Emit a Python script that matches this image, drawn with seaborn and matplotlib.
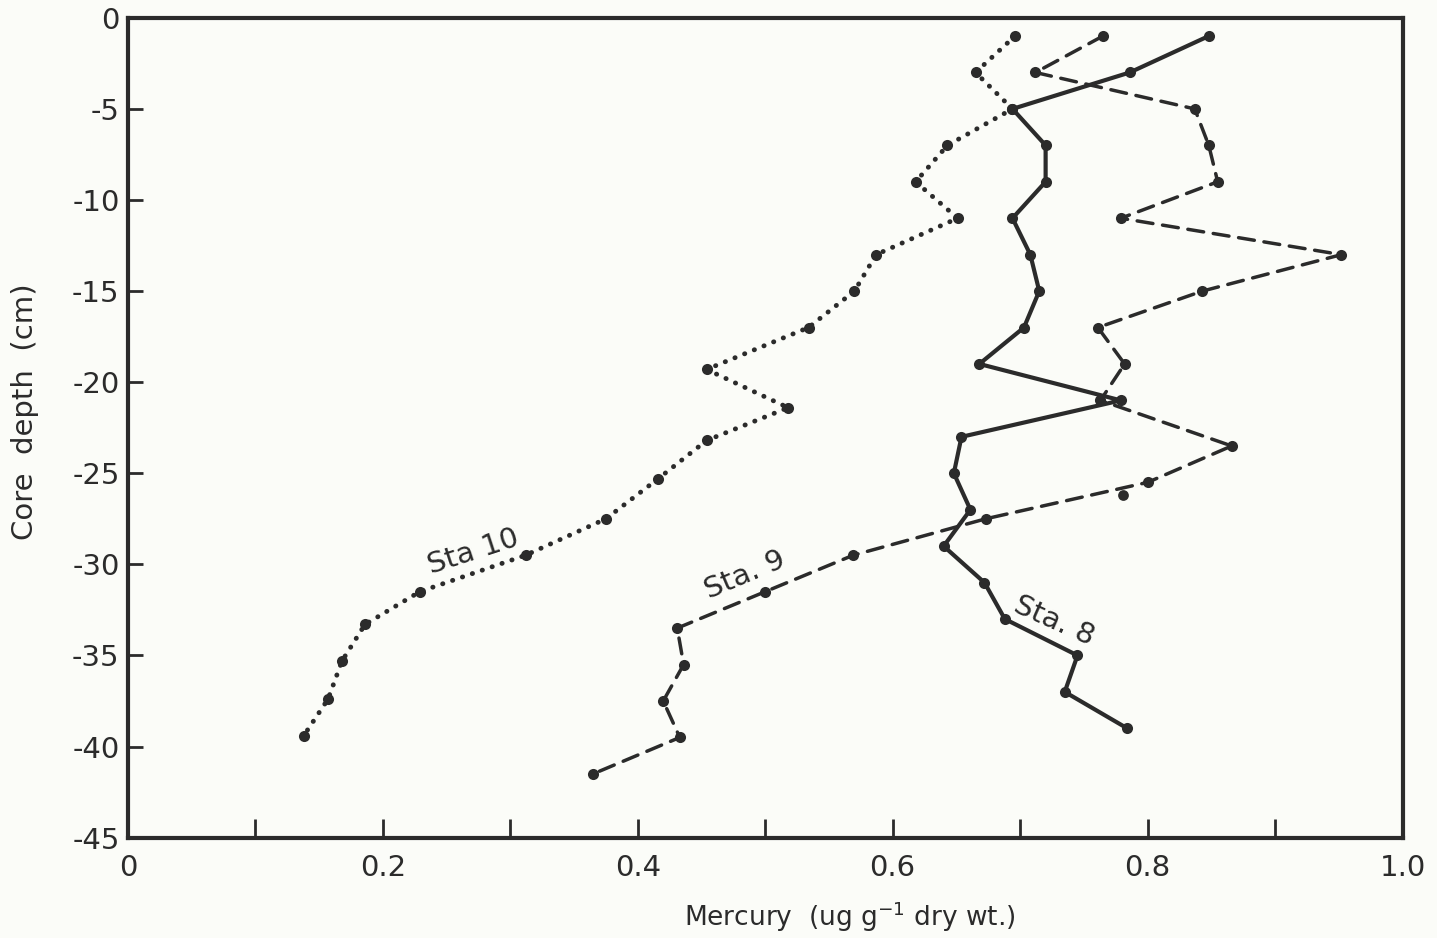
import matplotlib
matplotlib.use("Agg")
import matplotlib.pyplot as plt
import seaborn as sns
import pandas as pd

# Mercury profiles in sediment cores (ug/g dry weight) versus core depth (cm)
sta8_depth = [-1, -3, -5, -7, -9, -11, -13, -15, -17, -19, -21, -23, -25, -27,
              -29, -31, -33, -35, -37, -39]
sta8_hg = [0.848, 0.786, 0.694, 0.720, 0.720, 0.694, 0.708, 0.715, 0.703, 0.668,
           0.779, 0.654, 0.648, 0.661, 0.640, 0.672, 0.688, 0.745, 0.735, 0.784]

sta9_depth = [-1, -3, -5, -7, -9, -11, -13, -15, -17, -19, -21, -23.5, -25.5,
              -27.5, -29.5, -31.5, -33.5, -35.5, -37.5, -39.5, -41.5]
sta9_hg = [0.765, 0.712, 0.837, 0.848, 0.855, 0.779, 0.952, 0.843, 0.761, 0.782,
           0.763, 0.866, 0.800, 0.673, 0.569, 0.500, 0.431, 0.436, 0.420, 0.433,
           0.365]

sta10_depth = [-1, -3, -5, -7, -9, -11, -13, -15, -17, -19.3, -21.4, -23.2, -25.3,
               -27.5, -29.5, -31.5, -33.3, -35.3, -37.4, -39.4]
sta10_hg = [0.696, 0.665, 0.694, 0.643, 0.618, 0.651, 0.587, 0.570, 0.534, 0.454,
            0.518, 0.454, 0.416, 0.375, 0.312, 0.229, 0.186, 0.168, 0.157, 0.138]

# unconnected replicate sample near Sta. 9
extra_depth = [-26.2]
extra_hg = [0.781]

x_ticks = [0, 0.2, 0.4, 0.6, 0.8, 1.0]
x_tick_labels = ["0", "0.2", "0.4", "0.6", "0.8", "1.0"]
x_tick_marks = [0.1, 0.2, 0.3, 0.4, 0.5, 0.6, 0.7, 0.8, 0.9]
y_ticks = [0, -5, -10, -15, -20, -25, -30, -35, -40, -45]

sns.set_theme(style="white")
plt.rcParams["font.family"] = ["DejaVu Sans"]
plt.rcParams["axes.unicode_minus"] = False

ink = "#2b2b2b"
paper = "#fbfcf8"

fig = plt.figure(figsize=(14.37, 9.38), dpi=100, facecolor=paper)
ax = fig.add_axes([0.089, 0.107, 0.887, 0.874], facecolor=paper)

frames = {
    "Sta 8": pd.DataFrame({"hg": sta8_hg, "depth": sta8_depth}),
    "Sta 9": pd.DataFrame({"hg": sta9_hg, "depth": sta9_depth}),
    "Sta 10": pd.DataFrame({"hg": sta10_hg, "depth": sta10_depth}),
}

styles = {
    "Sta 8": dict(linestyle="-", linewidth=3.0),
    "Sta 9": dict(linestyle=(0, (4.6, 2.8)), linewidth=2.5),
    "Sta 10": dict(linestyle=(0, (0.05, 2.1)), linewidth=3.5),
}

for name, df in frames.items():
    sns.lineplot(data=df, x="hg", y="depth", sort=False, estimator=None,
                 color=ink, marker="o", markersize=8, markeredgewidth=0,
                 dash_capstyle="round", ax=ax, **styles[name])

sns.scatterplot(x=extra_hg, y=extra_depth, color=ink, s=60, linewidth=0, ax=ax)

# station labels written along the profiles
ax.text(0.271, -29.3, "Sta 10", rotation=18, ha="center", va="center",
        fontsize=21, color=ink)
ax.text(0.484, -30.6, "Sta. 9", rotation=23, ha="center", va="center",
        fontsize=21, color=ink)
ax.text(0.727, -33.1, "Sta. 8", rotation=-24, ha="center", va="center",
        fontsize=21, color=ink)

ax.set_xlim(0, 1.0)
ax.set_ylim(-45, 0)
ax.set_xticks(x_ticks)
ax.set_xticklabels(x_tick_labels)
ax.xaxis.remove_overlapping_locs = False
ax.set_xticks(x_tick_marks, minor=True)
ax.set_yticks(y_ticks)
ax.set_yticklabels([str(v) for v in y_ticks])

ax.tick_params(axis="both", which="both", direction="in", color=ink,
               width=2.0, labelcolor=ink, labelsize=21,
               bottom=True, left=True, top=False, right=False)
ax.tick_params(axis="x", which="major", length=0, pad=12)
ax.tick_params(axis="x", which="minor", length=14)
ax.tick_params(axis="y", which="major", length=11, pad=6)

for spine in ax.spines.values():
    spine.set_color(ink)
    spine.set_linewidth(3.0)

ax.set_xlabel("Mercury  (ug g$^{-1}$ dry wt.)", fontsize=19, color=ink,
              fontweight="medium", va="center")
ax.xaxis.set_label_coords(0.566, -0.097)
ax.set_ylabel("Core  depth  (cm)", fontsize=21, color=ink, fontweight="medium")
ax.yaxis.set_label_coords(-0.07, 0.52)

fig.savefig("out.png", dpi=100, facecolor=paper)
